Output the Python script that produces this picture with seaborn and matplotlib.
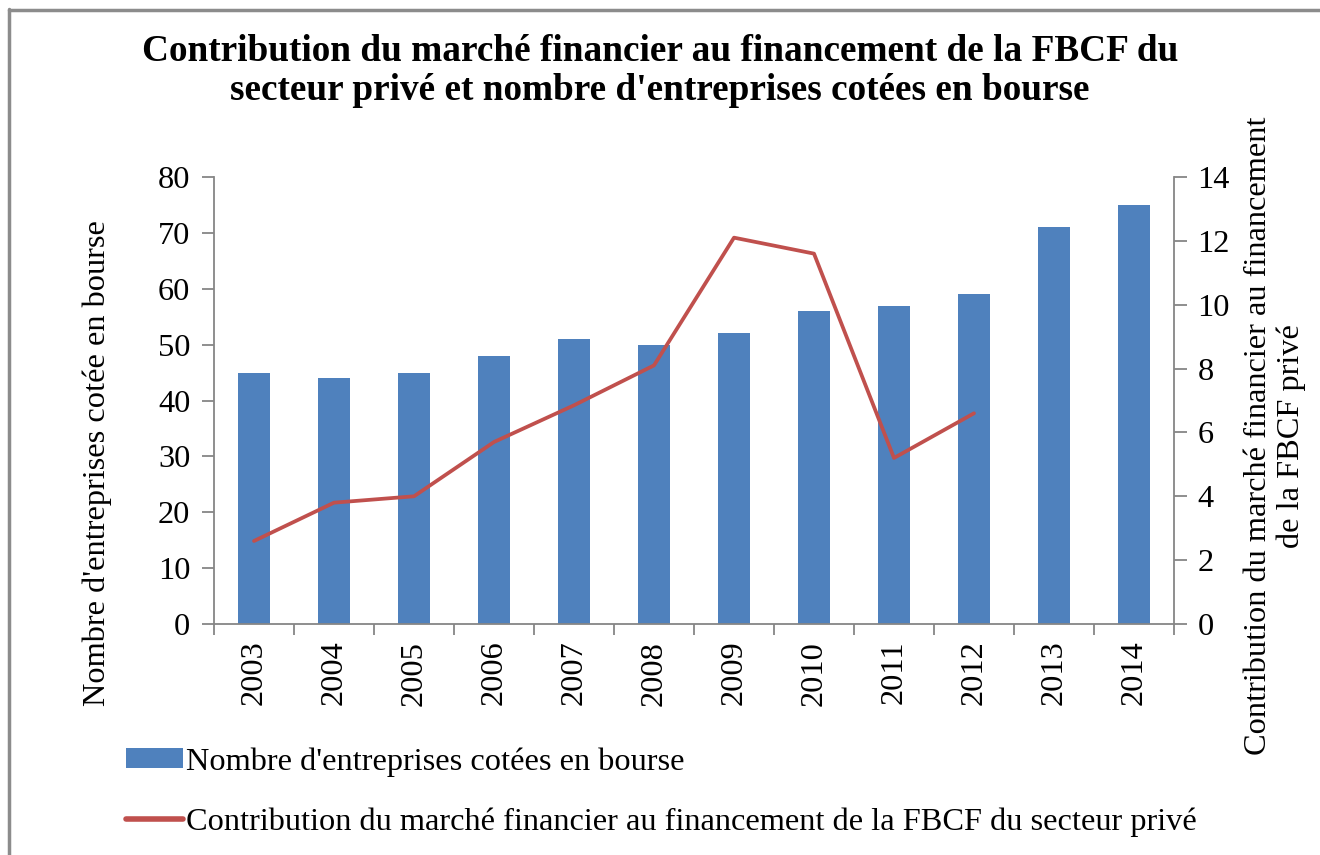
import matplotlib
matplotlib.use("Agg")
import matplotlib.pyplot as plt
import seaborn as sns
import numpy as np
import pandas as pd
from matplotlib.patches import Patch
from matplotlib.lines import Line2D

years = ["2003", "2004", "2005", "2006", "2007", "2008", "2009", "2010", "2011", "2012", "2013", "2014"]
entreprises = [45, 44, 45, 48, 51, 50, 52, 56, 57, 59, 71, 75]
contribution_years = ["2003", "2004", "2005", "2006", "2007", "2008", "2009", "2010", "2011", "2012"]
contribution = [2.6, 3.8, 4.0, 5.7, 6.85, 8.1, 12.1, 11.6, 5.2, 6.6]

bar_label = "Nombre d'entreprises cotées en bourse"
line_label = "Contribution du marché financier au financement de la FBCF du secteur privé"

sns.set_theme(style="white")
plt.rcParams['font.family'] = ['Liberation Serif', 'DejaVu Serif']
plt.rcParams['text.color'] = 'black'
plt.rcParams['xtick.color'] = 'black'
plt.rcParams['ytick.color'] = 'black'

FS = 23.3
W, H = 1320, 855
fig = plt.figure(figsize=(13.2, 8.55), dpi=100)
ax = fig.add_axes([214 / W, 1 - 624 / H, (1174 - 214) / W, (624 - 177) / H])

df_bar = pd.DataFrame({"year": years, "n": entreprises})
sns.barplot(data=df_bar, x="year", y="n", color="#4F81BD", saturation=1, width=0.4,
            edgecolor="none", linewidth=0, ax=ax)
ax.set_ylim(0, 80)
ax.set_xlim(-0.5, len(years) - 0.5)
ax.set_yticks(range(0, 81, 10))
ax.set_xlabel("")
ax.set_ylabel("")

ax2 = ax.twinx()
pos = [years.index(y) for y in contribution_years]
df_line = pd.DataFrame({"pos": pos, "c": contribution})
sns.lineplot(data=df_line, x="pos", y="c", color="#C0504D", linewidth=2.7, ax=ax2)
ax2.set_ylim(0, 14)
ax2.set_yticks(range(0, 15, 2))
ax2.set_xlim(-0.5, len(years) - 0.5)
ax2.set_xlabel("")
ax2.set_ylabel("")

spine_col = "#868686"
for a in (ax, ax2):
    for s in a.spines.values():
        s.set_visible(False)
ax.spines["left"].set_visible(True)
ax.spines["bottom"].set_visible(True)
ax2.spines["right"].set_visible(True)
for s in [ax.spines["left"], ax.spines["bottom"], ax2.spines["right"]]:
    s.set_color(spine_col)
    s.set_linewidth(1.3)

ax.set_xticks(range(len(years)))
ax.set_xticklabels(years, rotation=90, fontsize=FS)
ax.set_xticks(np.arange(-0.5, len(years), 1), minor=True)
ax.tick_params(axis="x", which="major", length=0, pad=12)
ax.tick_params(axis="x", which="minor", length=8, width=1.3, color=spine_col, direction="out", bottom=True)
ax.tick_params(axis="y", length=9, width=1.3, color=spine_col, labelcolor="black", direction="out", left=True, labelsize=FS, pad=8)
ax2.tick_params(axis="y", length=9, width=1.3, color=spine_col, labelcolor="black", direction="out", right=True, labelsize=FS, pad=8)

fig.text(0.5, 1 - 71 / H, "Contribution du marché financier au financement de la FBCF du\nsecteur privé et nombre d'entreprises cotées en bourse",
         ha="center", va="center", fontsize=26.8, fontweight="bold", linespacing=1.15)

fig.text(97 / W, 1 - 463 / H, "Nombre d'entreprises cotée en bourse", rotation=90,
         ha="center", va="center", fontsize=FS)
fig.text(1275 / W, 1 - 436 / H, "Contribution du marché financier au financement\nde la FBCF privé",
         rotation=90, ha="center", va="center", fontsize=FS, multialignment="center", linespacing=1.2)

handles = [Patch(facecolor="#4F81BD", edgecolor="none"),
           Line2D([0], [0], color="#C0504D", linewidth=4)]
fig.legend(handles, [bar_label, line_label], loc="upper left",
           bbox_to_anchor=(126 / W, 1 - 747 / H), frameon=False, fontsize=FS,
           handlelength=1.75, handleheight=0.55, handletextpad=0.1, labelspacing=0.95,
           borderaxespad=0, borderpad=0)

# outer frame (left and top edges visible)
fig.add_artist(Line2D([8.5 / W, 8.5 / W], [0, 1 - 9.5 / H], transform=fig.transFigure, color="#8C8C8C", linewidth=2.5))
fig.add_artist(Line2D([8.5 / W, 1], [1 - 10 / H, 1 - 10 / H], transform=fig.transFigure, color="#8C8C8C", linewidth=2.5))

fig.savefig("out.png", dpi=100)
